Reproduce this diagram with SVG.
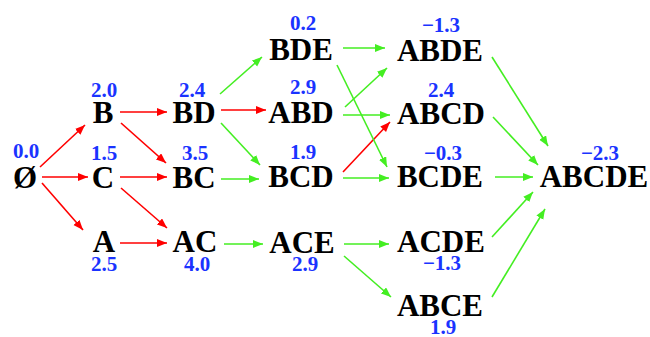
<svg xmlns="http://www.w3.org/2000/svg" width="650" height="337" viewBox="0 0 650 337">
<defs>
<marker id="ar" markerUnits="userSpaceOnUse" markerWidth="11" markerHeight="9" refX="10" refY="4" orient="auto"><path d="M0,0 L10,4 L0,8 z" fill="#ff0000"/></marker>
<marker id="ag" markerUnits="userSpaceOnUse" markerWidth="11" markerHeight="9" refX="10" refY="4" orient="auto"><path d="M0,0 L10,4 L0,8 z" fill="#44ee22"/></marker>
</defs>
<style>
.n{font-family:"Liberation Serif","Times New Roman",serif;font-weight:bold;font-size:31px;fill:#000;text-anchor:middle}
.v{font-family:"Liberation Serif","Times New Roman",serif;font-weight:bold;font-size:21px;fill:#1a33ff;text-anchor:middle}
.r{stroke:#ff0000;stroke-width:1.6;fill:none;marker-end:url(#ar)}
.g{stroke:#44ee22;stroke-width:1.6;fill:none;marker-end:url(#ag)}
</style>
<rect width="650" height="337" fill="#ffffff"/>
<g id="connectors">
<line class="r" x1="40" y1="167" x2="85" y2="125"/>
<line class="r" x1="42" y1="177" x2="88" y2="177"/>
<line class="r" x1="42" y1="183" x2="83" y2="230"/>
<line class="r" x1="120" y1="112" x2="167" y2="112"/>
<line class="r" x1="121" y1="123" x2="166" y2="163"/>
<line class="r" x1="120" y1="177" x2="167" y2="177"/>
<line class="r" x1="121" y1="188" x2="167" y2="228"/>
<line class="r" x1="120" y1="243" x2="167" y2="243"/>
<line class="r" x1="221" y1="110" x2="266" y2="110"/>
<line class="r" x1="343" y1="172" x2="390" y2="122"/>
<line class="g" x1="220" y1="94" x2="262" y2="57"/>
<line class="g" x1="221" y1="123" x2="260" y2="165"/>
<line class="g" x1="221" y1="179" x2="259" y2="179"/>
<line class="g" x1="224" y1="244" x2="263" y2="244"/>
<line class="g" x1="343" y1="48" x2="385" y2="48"/>
<line class="g" x1="337" y1="65" x2="387" y2="167"/>
<line class="g" x1="345" y1="107" x2="387" y2="68"/>
<line class="g" x1="343" y1="115" x2="390" y2="115"/>
<line class="g" x1="343" y1="178" x2="389" y2="178"/>
<line class="g" x1="344" y1="244" x2="389" y2="244"/>
<line class="g" x1="344" y1="256" x2="391" y2="297"/>
<line class="g" x1="492" y1="57" x2="548" y2="146"/>
<line class="g" x1="493" y1="117" x2="538" y2="165"/>
<line class="g" x1="495" y1="177" x2="533" y2="177"/>
<line class="g" x1="492" y1="237" x2="533" y2="192"/>
<line class="g" x1="492" y1="297" x2="545" y2="209"/>
</g>
<g id="n0"><text class="n" x="25" y="188">Ø</text><text class="v" x="26" y="158">0.0</text></g>
<g id="nB"><text class="n" x="103" y="123">B</text><text class="v" x="104" y="97">2.0</text></g>
<g id="nC"><text class="n" x="103" y="188">C</text><text class="v" x="104" y="160">1.5</text></g>
<g id="nA"><text class="n" x="104" y="252">A</text><text class="v" x="104" y="271">2.5</text></g>
<g id="nBD"><text class="n" x="194" y="123">BD</text><text class="v" x="192" y="97">2.4</text></g>
<g id="nBC"><text class="n" x="194" y="188">BC</text><text class="v" x="195" y="160">3.5</text></g>
<g id="nAC"><text class="n" x="195" y="252">AC</text><text class="v" x="197" y="271">4.0</text></g>
<g id="nBDE"><text class="n" x="301" y="60">BDE</text><text class="v" x="303" y="30">0.2</text></g>
<g id="nABD"><text class="n" x="301" y="123">ABD</text><text class="v" x="303" y="94">2.9</text></g>
<g id="nBCD"><text class="n" x="301" y="187">BCD</text><text class="v" x="303" y="159">1.9</text></g>
<g id="nACE"><text class="n" x="302" y="253">ACE</text><text class="v" x="305" y="271">2.9</text></g>
<g id="nABDE"><text class="n" x="440" y="61">ABDE</text><text class="v" x="441" y="32">−1.3</text></g>
<g id="nABCD"><text class="n" x="441" y="124">ABCD</text><text class="v" x="441" y="97">2.4</text></g>
<g id="nBCDE"><text class="n" x="440" y="187">BCDE</text><text class="v" x="443" y="160">−0.3</text></g>
<g id="nACDE"><text class="n" x="441" y="252">ACDE</text><text class="v" x="442" y="270">−1.3</text></g>
<g id="nABCE"><text class="n" x="440" y="316">ABCE</text><text class="v" x="443" y="334">1.9</text></g>
<g id="nABCDE"><text class="n" x="594" y="187">ABCDE</text><text class="v" x="600" y="160">−2.3</text></g>
</svg>
